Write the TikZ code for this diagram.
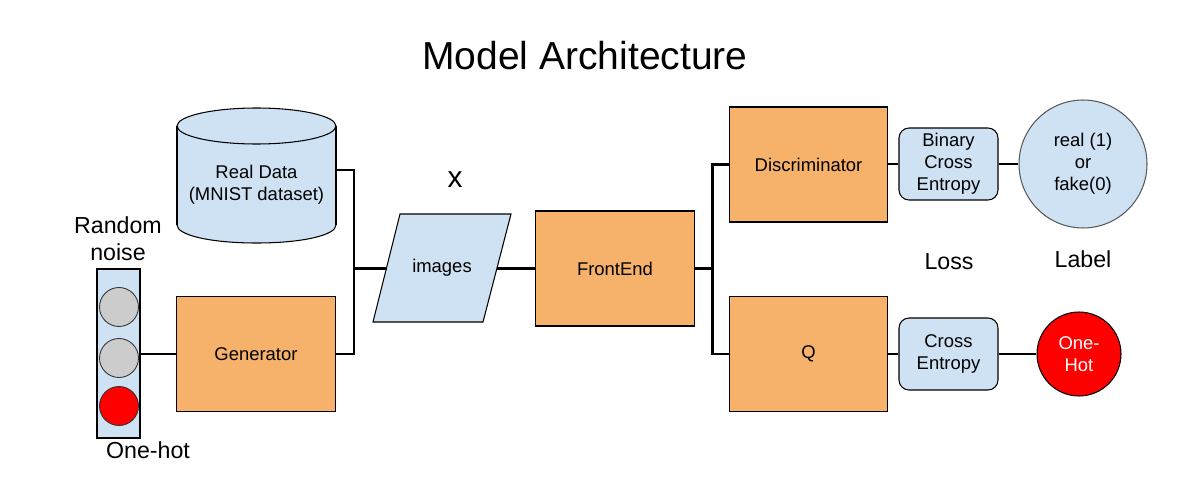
\documentclass[tikz,border=0pt]{standalone}
\usepackage{fontspec}
\setmainfont{Liberation Sans}
\definecolor{orng}{HTML}{F6B26B}
\definecolor{lblue}{HTML}{CFE2F3}
\definecolor{gry}{HTML}{CCCCCC}
\definecolor{circedge}{HTML}{595959}
\begin{document}
\begin{tikzpicture}[x=0.02cm,y=-0.02cm,
  body/.style={font=\fontsize{10.5}{12.5}\selectfont, align=center},
  big/.style={font=\fontsize{13.2}{15.5}\selectfont, align=center},
  block/.style={body, draw=black, line width=0.6pt, fill=orng, minimum width=3.17cm, minimum height=2.3cm, inner sep=0pt},
  lossbox/.style={body, draw=black, line width=0.6pt, fill=lblue, rounded corners=0.2cm, minimum width=1.98cm, minimum height=1.44cm, inner sep=0pt},
  dot/.style={circle, draw=black!80, line width=0.5pt, minimum size=0.78cm, inner sep=0pt},
  conn/.style={line width=1.7pt, black},
  shapeline/.style={draw=black, line width=0.6pt}]
\useasboundingbox (0,0) rectangle (1200,500);

% title
\node[font=\fontsize{22.2}{26}\selectfont] (title) at (585,56) {Model Architecture};

% real data cylinder
\fill[lblue] (177,126) rectangle (336,225);
\fill[lblue] (256.5,126) ellipse [x radius=1.59cm, y radius=0.36cm];
\fill[lblue] (256.5,225) ellipse [x radius=1.59cm, y radius=0.36cm];
\draw[line width=0.6pt] (256.5,126) ellipse [x radius=1.59cm, y radius=0.36cm];
\draw[line width=0.6pt] (177,126) -- (177,225);
\draw[line width=0.6pt] (336,126) -- (336,225);
\draw[line width=0.6pt] (177,225) .. controls (177,235) and (210,243) .. (256.5,243) .. controls (303,243) and (336,235) .. (336,225);
\node[body, minimum width=3.18cm, minimum height=2cm] (real) at (256.5,185) {Real Data\\(MNIST dataset)};
\coordinate (realR) at (336,170);

% random noise panel
\node[draw=black, line width=0.6pt, fill=lblue, minimum width=0.86cm, minimum height=3.38cm, inner sep=0pt] (panel) at (118.5,353.5) {};
\node[dot, fill=gry] (n1) at (119,307) {};
\node[dot, fill=gry] (n2) at (119,358) {};
\node[dot, fill=red] (n3) at (119,406) {};
\node[big] (rn) at (118,239) {Random\\noise};
\node[big] (oh1) at (148,450) {One-hot};

% generator
\node[block] (gen) at (256,354) {Generator};

% images parallelogram
\path[shapeline, fill=lblue] (400,214) -- (511,214) -- (483,322) -- (373,322) -- cycle;
\node[body, minimum width=2.2cm, minimum height=2.1cm, inner sep=0pt] (img) at (442,268) {images};
\coordinate (imgL) at (387,268.5);
\coordinate (imgR) at (497,268.5);
\node[font=\fontsize{17}{20}\selectfont] (xl) at (455,180) {x};

% frontend
\node[block] (fe) at (615,268.5) {FrontEnd};

% discriminator and Q
\node[block] (disc) at (808.5,164.5) {Discriminator};
\node[block] (q) at (808.5,354) {Q};

% losses
\node[lossbox] (bce) at (948.5,164) {Binary\\Cross\\Entropy};
\node[lossbox] (ce) at (948.5,354) {Cross\\Entropy};
\node[big] (loss) at (949,262) {Loss};

% labels
\node[body, circle, draw=circedge, line width=0.6pt, fill=lblue, minimum size=2.56cm, inner sep=0pt] (lab) at (1083,164) {real (1)\\or\\fake(0)};
\node[body, circle, draw=black, line width=0.6pt, fill=red, text=white, minimum size=1.68cm, inner sep=0pt] (oh) at (1079,354) {One-\\Hot};
\node[big] (labl) at (1083,259) {Label};

% connectors
\coordinate (j1) at (354,268.5);
\coordinate (j2) at (712,268.5);
\draw[conn] (realR) -| (j1) |- (gen.east);
\draw[conn] (j1) -- (imgL);
\draw[conn] (panel.east |- gen.east) -- (gen.west);
\draw[conn] (imgR) -- (fe.west);
\draw[conn] (fe.east) -- (j2);
\draw[conn] (disc.west) -| (j2) |- (q.west);
\draw[conn] (disc.east |- bce.west) -- (bce.west);
\draw[conn] (bce.east) -- (lab.west);
\draw[conn] (q.east) -- (ce.west);
\draw[conn] (ce.east) -- (oh.west);
\end{tikzpicture}
\end{document}
